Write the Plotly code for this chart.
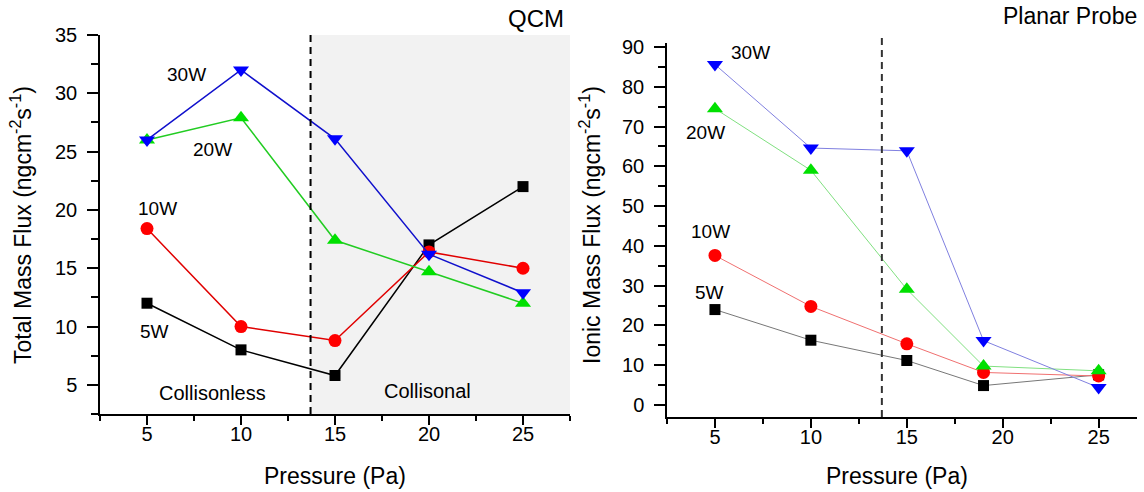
import plotly.graph_objects as go

# ---- data ----
qcm_pressure = [5, 10, 15, 20, 25]
qcm_5w = [12.0, 8.0, 5.8, 17.0, 22.0]
qcm_10w = [18.4, 10.0, 8.8, 16.4, 15.0]
qcm_20w = [26.0, 27.9, 17.4, 14.7, 12.0]
qcm_30w = [26.0, 32.0, 26.1, 16.2, 12.9]

probe_pressure = [5, 10, 15, 19, 25]
probe_5w = [24.0, 16.3, 11.2, 4.9, 7.6]
probe_10w = [37.6, 24.8, 15.4, 8.2, 7.3]
probe_20w = [74.5, 59.0, 29.1, 9.8, 8.6]
probe_30w = [85.6, 64.6, 63.9, 16.2, 4.4]

series_names = ["5W", "10W", "20W", "30W"]
marker_symbols = ["square", "circle", "triangle-up", "triangle-down"]
marker_colors = ["#000000", "#ff0000", "#00e000", "#0000ff"]
line_colors_left = ["#000000", "#e00000", "#22cc22", "#1010cc"]
line_colors_right = ["#777777", "#f07070", "#80e080", "#8080e0"]
marker_sizes = [11, 13, 14, 14]

boundary_pressure = 13.7

FONT = "Liberation Sans, Arial, sans-serif"

fig = go.Figure()

left_sets = [qcm_5w, qcm_10w, qcm_20w, qcm_30w]
right_sets = [probe_5w, probe_10w, probe_20w, probe_30w]

for i, vals in enumerate(left_sets):
    fig.add_trace(go.Scatter(
        x=qcm_pressure, y=vals, mode="lines+markers", name=series_names[i],
        line=dict(color=line_colors_left[i], width=1.5),
        marker=dict(symbol=marker_symbols[i], color=marker_colors[i], size=marker_sizes[i],
                    line=dict(width=0)),
        xaxis="x", yaxis="y", showlegend=False, cliponaxis=False))

for i, vals in enumerate(right_sets):
    fig.add_trace(go.Scatter(
        x=probe_pressure, y=vals, mode="lines+markers", name=series_names[i],
        line=dict(color=line_colors_right[i], width=1),
        marker=dict(symbol=marker_symbols[i], color=marker_colors[i], size=marker_sizes[i],
                    line=dict(width=0)),
        xaxis="x2", yaxis="y2", showlegend=False, cliponaxis=False))

W, H = 1144, 492

def px_x(p):
    return p / W

def px_y(p):
    return 1 - p / H

tickfont = dict(family=FONT, size=20, color="black")

common_x = dict(showgrid=False, zeroline=False, showline=True, linecolor="black", linewidth=1.5,
                ticks="outside", ticklen=9, tickwidth=1.5, tickcolor="black", tick0=0, dtick=5,
                minor=dict(dtick=2.5, ticks="outside", ticklen=5, tickwidth=1.5, tickcolor="black"),
                tickfont=tickfont, ticklabelstandoff=-8, fixedrange=True, automargin=False)
common_y = dict(showgrid=False, zeroline=False, showline=True, linecolor="black", linewidth=1.5,
                ticks="outside", ticklen=11, tickwidth=1.5, tickcolor="black",
                tickfont=tickfont, ticklabelstandoff=6, fixedrange=True, automargin=False)

fig.update_layout(
    width=W, height=H,
    margin=dict(l=0, r=0, t=0, b=0, pad=0, autoexpand=False),
    paper_bgcolor="white", plot_bgcolor="rgba(0,0,0,0)",
    font=dict(family=FONT, color="black"),
    xaxis=dict(common_x, domain=[px_x(100), px_x(570)], range=[2.5, 27.5], anchor="y"),
    yaxis=dict(common_y, domain=[px_y(414), px_y(35)], range=[2.5, 35], tick0=0, dtick=5,
               minor=dict(dtick=2.5, ticks="outside", ticklen=7, tickwidth=1.5, tickcolor="black"),
               anchor="x"),
    xaxis2=dict(common_x, domain=[px_x(667), px_x(1137)], range=[2.5, 27.0], anchor="y2"),
    yaxis2=dict(common_y, domain=[px_y(417), px_y(43)], range=[-3, 91], tick0=0, dtick=10,
                minor=dict(dtick=5, ticks="outside", ticklen=7, tickwidth=1.5, tickcolor="black"),
                anchor="x2"),
)

# shading for collisional regime (left)
fig.add_shape(type="rect", xref="x", yref="y", x0=boundary_pressure, x1=27.5, y0=2.5, y1=35,
              fillcolor="#f2f2f2", line=dict(width=0), layer="below")
# dashed boundaries
fig.add_shape(type="line", xref="x", yref="paper", x0=boundary_pressure, x1=boundary_pressure,
              y0=px_y(414), y1=px_y(30), line=dict(color="black", width=2, dash="7px,5px"))
fig.add_shape(type="line", xref="x2", yref="paper", x0=boundary_pressure, x1=boundary_pressure,
              y0=px_y(417), y1=px_y(34), line=dict(color="#333333", width=2, dash="7px,5px"))

def ann(text, x, y, size=19, xanchor="center", yanchor="middle", angle=0):
    fig.add_annotation(text=text, x=px_x(x), y=px_y(y), xref="paper", yref="paper",
                       showarrow=False, xanchor=xanchor, yanchor=yanchor, textangle=angle,
                       font=dict(family=FONT, size=size, color="black"))

# series labels
ann("30W", 186, 74)
ann("20W", 212, 149)
ann("10W", 157, 208)
ann("5W", 154, 331)
ann("Collisonless", 212, 393, size=20)
ann("Collisonal", 427, 391, size=20)

ann("30W", 750, 53)
ann("20W", 706, 133)
ann("10W", 710, 231)
ann("5W", 709, 292)

# panel titles
ann("QCM", 566, 18, size=24, xanchor="right")
ann("Planar Probe", 1139, 16, size=23, xanchor="right")

# axis titles
ann("Pressure (Pa)", 335, 476, size=23)
ann("Pressure (Pa)", 897, 476, size=23)
ann("Total Mass Flux (ngcm<sup>-2</sup>s<sup>-1</sup>)", 21, 225, size=23, angle=-90)
ann("Ionic Mass Flux (ngcm<sup>-2</sup>s<sup>-1</sup>)", 590, 225, size=23, angle=-90)

# remove the default page margin so the figure fills the 1144x492 window exactly
page_css = ("document.body.style.margin='0';document.body.style.overflow='hidden';"
            "document.documentElement.style.overflow='hidden';")
fig.write_html("out.html", post_script=page_css, config={"displayModeBar": False})
